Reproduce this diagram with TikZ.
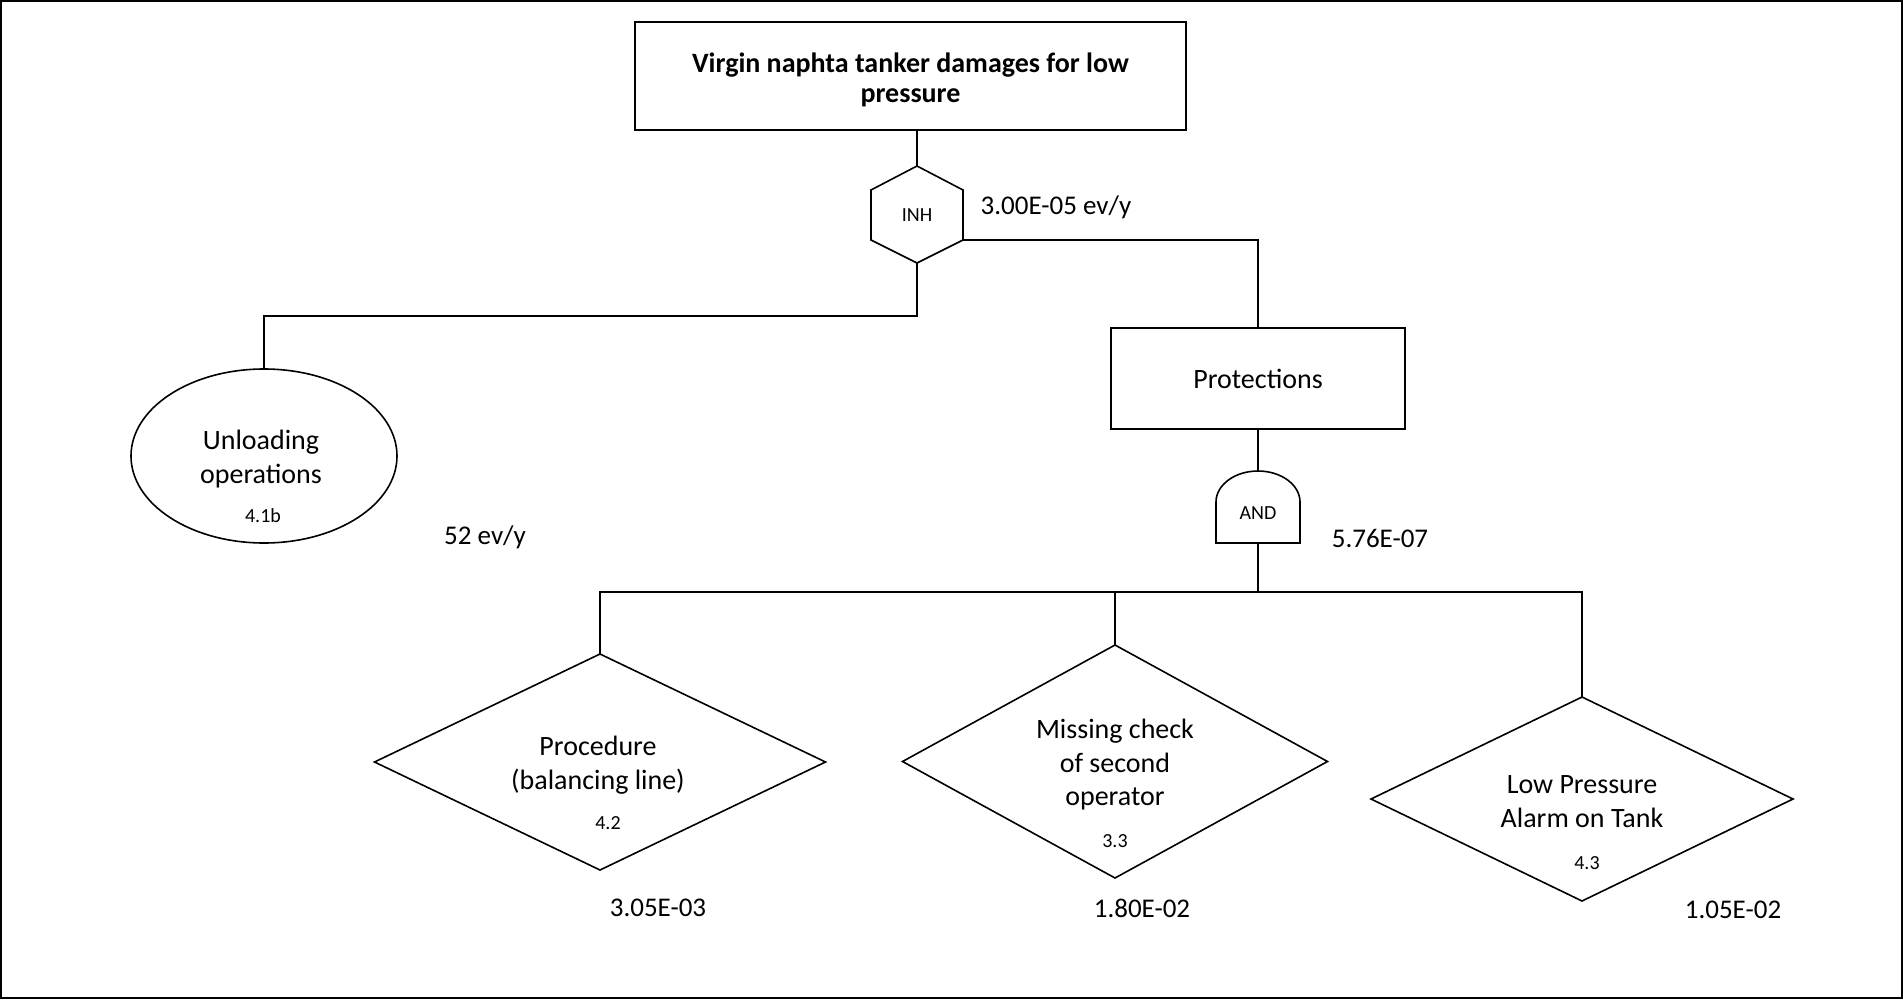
\documentclass[tikz,border=0pt]{standalone}
\usepackage{fontspec}
\setmainfont{Carlito}
\usetikzlibrary{shapes.geometric}
\tikzset{
  ln/.style={line width=1.6pt, line join=miter},
  big/.style={font=\fontsize{28}{33.5}\selectfont, align=center, inner sep=0pt},
  sml/.style={font=\fontsize{20}{24}\selectfont, inner sep=0pt},
  lab/.style={font=\fontsize{27}{32}\selectfont, inner sep=0pt},
  boxnode/.style={draw, ln, rectangle, inner sep=0pt},
  dia/.style={draw, ln, diamond, inner sep=0pt, outer sep=0pt}
}
\begin{document}
\begin{tikzpicture}[x=1pt,y=-1pt]
\useasboundingbox (0,0) rectangle (1903,999);
\draw[line width=2pt] (1,1) rectangle (1902,998);

% top event
\node[boxnode, minimum width=551pt, minimum height=108pt] (title) at (910.5,76) {};
\node[font=\fontsize{28}{30}\selectfont\bfseries, align=center, inner sep=0pt] (titletxt) at (910.5,80)
  {Virgin naphta tanker damages for low\\pressure};

% INH gate (hexagon)
\coordinate (hexT) at (917,166);
\coordinate (hexUR) at (963,190);
\coordinate (hexR) at (963,240);
\coordinate (hexB) at (917,263);
\coordinate (hexLL) at (871,240);
\coordinate (hexUL) at (871,190);
\draw[ln] (hexT) -- (hexUR) -- (hexR) -- (hexB) -- (hexLL) -- (hexUL) -- cycle;
\node[sml] (inh) at (917,215) {INH};
\node[lab] (inhval) at (1056,207) {3.00E-05 ev/y};

% Protections
\node[boxnode, minimum width=294pt, minimum height=101pt, font=\fontsize{28}{33.5}\selectfont] (prot) at (1258,378.5) {Protections};

% Unloading operations
\node[draw, ln, ellipse, minimum width=266pt, minimum height=174pt, inner sep=0pt] (unl) at (264,456) {};
\node[big] (unltxt) at (261,459) {Unloading\\operations};
\node[sml] (unlid) at (263,516) {4.1b};
\node[lab] (unlval) at (485,537) {52 ev/y};

% AND gate
\coordinate (andT) at (1258,471);
\coordinate (andB) at (1258,543);
\draw[ln] (1216,543) -- (1216,502) arc[start angle=180, end angle=360, x radius=42, y radius=31] -- (1300,543) -- cycle;
\node[sml] (and) at (1258,513) {AND};
\node[lab] (andval) at (1380,538) {5.76E-07};

% basic events (diamonds)
\node[dia, minimum width=451pt, minimum height=216pt] (d1) at (600,762) {};
\node[big] (d1txt) at (598,765) {Procedure\\(balancing line)};
\node[sml] (d1id) at (608,823) {4.2};
\node[lab] (d1val) at (658,908) {3.05E-03};

\node[dia, minimum width=425pt, minimum height=233pt] (d2) at (1115,761.5) {};
\node[big] (d2txt) at (1115,765) {Missing check\\of second\\operator};
\node[sml] (d2id) at (1115,841) {3.3};
\node[lab] (d2val) at (1142,908) {1.80E-02};

\node[dia, minimum width=422pt, minimum height=204pt] (d3) at (1582,799) {};
\node[big] (d3txt) at (1582,801.5) {Low Pressure\\Alarm on Tank};
\node[sml] (d3id) at (1587,863) {4.3};
\node[lab] (d3val) at (1733,910) {1.05E-02};

% connectors
\draw[ln] (hexT) -- (hexT |- title.south);
\draw[ln] (hexR) -| (prot.north);
\draw[ln] (hexB) -- (917,316) -| (unl.north);
\draw[ln] (prot.south) -- (andT);
\draw[ln] (andB) -- (1258,592) -| (d1.north);
\draw[ln] (andB) -- (1258,592) -| (d2.north);
\draw[ln] (andB) -- (1258,592) -| (d3.north);
\end{tikzpicture}
\end{document}
